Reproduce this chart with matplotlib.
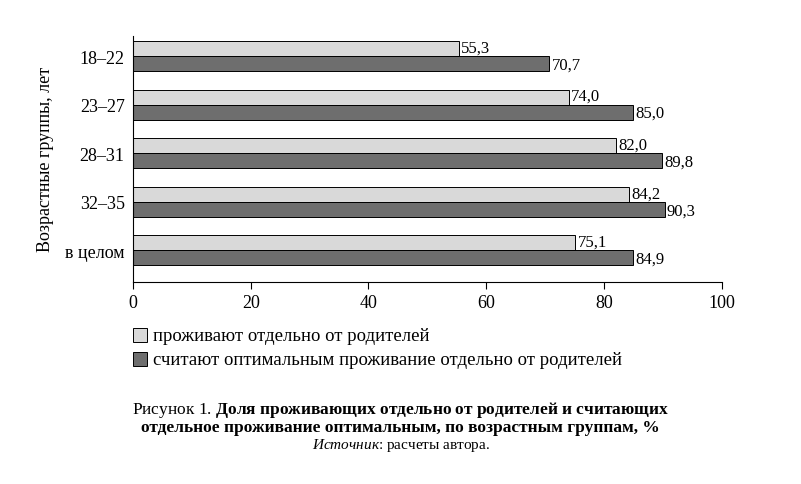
import matplotlib
matplotlib.use("Agg")
import matplotlib.pyplot as plt
from matplotlib.patches import Rectangle
import numpy as np

categories = ["18–22", "23–27", "28–31", "32–35", "в целом"]
live_apart = [55.3, 74.0, 82.0, 84.2, 75.1]
optimal = [70.7, 85.0, 89.8, 90.3, 84.9]
labels = ["проживают отдельно от родителей",
          "считают оптимальным проживание отдельно от родителей"]
xticks = [0, 20, 40, 60, 80, 100]

plt.rcParams["font.family"] = "Liberation Serif"
plt.rcParams["mathtext.fontset"] = "custom"
plt.rcParams["mathtext.rm"] = "Liberation Serif"
plt.rcParams["mathtext.bf"] = "Liberation Serif:bold"
plt.rcParams["mathtext.it"] = "Liberation Serif:italic"
fig = plt.figure(figsize=(8.01, 4.85), dpi=100)
ax = fig.add_axes([0.166, 0.4165, 0.735, 0.508])
y = np.arange(len(categories))
h = 0.31
light, dark = "#d9d9d9", "#6e6e6e"
ax.barh(y - h/2, live_apart, height=h, color=light, edgecolor="black", linewidth=0.7)
ax.barh(y + h/2, optimal, height=h, color=dark, edgecolor="black", linewidth=0.7)
fmt = lambda v: f"{v:.1f}".replace(".", ",")
for i in range(len(categories)):
    ax.text(live_apart[i] + 0.4, y[i] - h/2 - 0.02, fmt(live_apart[i]), va="center", ha="left", fontsize=12)
    ax.text(optimal[i] + 0.4, y[i] + h/2 + 0.02, fmt(optimal[i]), va="center", ha="left", fontsize=12)
ax.set_ylim(4.65, -0.42)
ax.set_xlim(0, 100)
ax.set_yticks(y)
ax.set_yticklabels(categories, fontsize=13)
ax.set_xticks(xticks)
ax.set_xticklabels([str(t) for t in xticks], fontsize=13)
ax.tick_params(axis="y", length=0, pad=6)
ax.tick_params(axis="x", length=5, direction="out")
for s in ["top", "right"]:
    ax.spines[s].set_visible(False)
ax.set_ylabel("Возрастные группы, лет", fontsize=13, labelpad=8)

for i, (lab, c) in enumerate(zip(labels, [light, dark])):
    yy = 1 - (337 + 24*i) / 485
    fig.patches.append(Rectangle((133/801, yy - 0.012), 14/801, 0.029, transform=fig.transFigure,
                                 facecolor=c, edgecolor="black", linewidth=0.7))
    fig.text(153/801, yy + 0.002, lab, fontsize=13.5, va="center", ha="left")

fig.text(0.5, 1 - 410/485, "Рисунок 1. $\\mathbf{Доля\\ проживающих\\ отдельно\\ от\\ родителей\\ и\\ считающих}$",
         ha="center", va="center", fontsize=12.5)
fig.text(0.5, 1 - 428/485, "отдельное проживание оптимальным, по возрастным группам, %",
         ha="center", va="center", fontsize=12.5, fontweight="bold")
fig.text(0.5, 1 - 446/485, "$\\mathit{Источник}$: расчеты автора.", ha="center", va="center", fontsize=11)
fig.savefig("out.png", dpi=100)
